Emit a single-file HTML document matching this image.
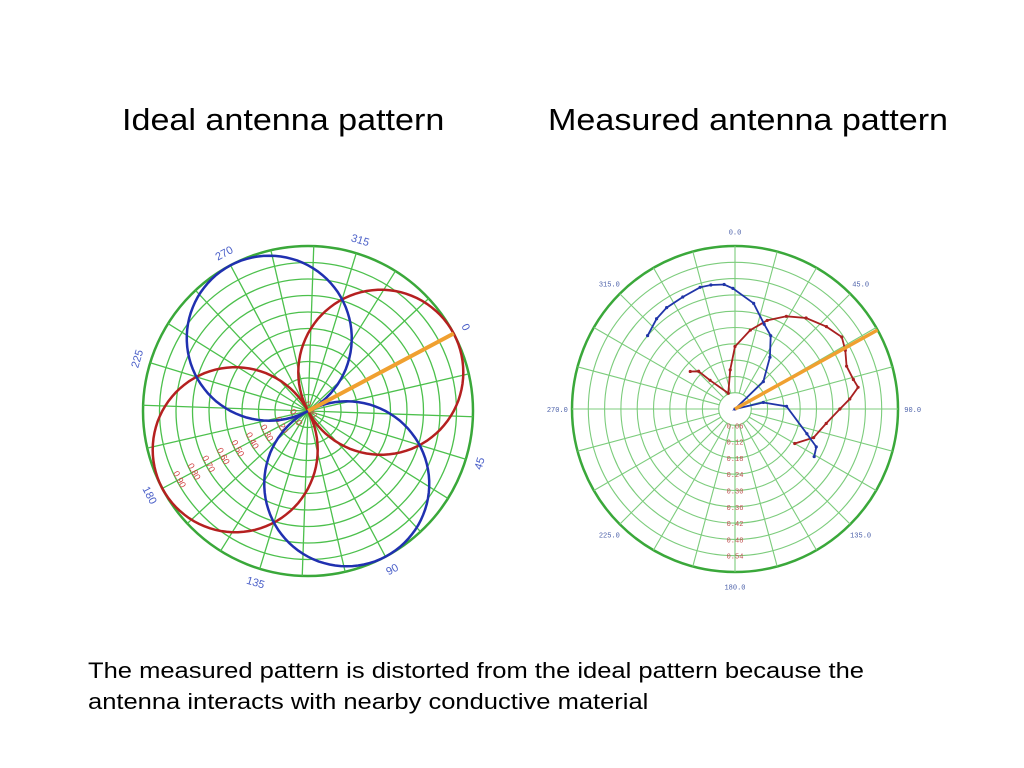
<!DOCTYPE html>
<html><head><meta charset="utf-8"><style>
body{margin:0;width:1024px;height:768px;background:#fff;overflow:hidden;font-family:"Liberation Sans",sans-serif;}
.t{position:absolute;font-size:31px;color:#000;white-space:nowrap;transform-origin:0 0;}
.b{position:absolute;left:88px;font-size:22px;color:#000;line-height:31px;white-space:nowrap;transform-origin:0 0;}
</style></head><body>
<div class="t" style="left:122px;top:102px;transform:scaleX(1.1)">Ideal antenna pattern</div>
<div class="t" style="left:548px;top:102px;transform:scaleX(1.1)">Measured antenna pattern</div>
<div class="b" style="top:655px;transform:scaleX(1.16)">The measured pattern is distorted from the ideal pattern because the<br>antenna interacts with nearby conductive material</div>
<svg id="svg" width="1024" height="768" style="position:absolute;left:0;top:0"></svg>
<script>
// Measured chart data (angle deg clockwise from north, normalized magnitude)
const blueAngles=[310,319,326,335,344,349,355,359,10,19,26,34,46,60,77,87,109,115,121];
const blueValues=[0.42,0.44,0.45,0.455,0.466,0.465,0.46,0.444,0.395,0.33,0.30,0.23,0.145,0,0.107,0.19,0.28,0.33,0.34];
const redAngles=[120,110,99,90,85,80,76,69,62,56,48,38,29,20,11,0,353,337,319,316,310];
const redValues=[0.254,0.308,0.34,0.386,0.424,0.46,0.449,0.44,0.46,0.474,0.453,0.425,0.39,0.347,0.296,0.23,0.145,0.063,0.14,0.193,0.215];
const radialTicks=["0.06","0.12","0.18","0.24","0.30","0.36","0.42","0.48","0.54"];
const angleTicks=["0.0","45.0","90.0","135.0","180.0","225.0","270.0","315.0"];
const idealTicks=["0","45","90","135","180","225","270","315"];
const idealRadial=["0.00","0.10","0.20","0.30","0.40","0.50","0.60","0.70","0.80","0.90"];
const measuredMax=0.6, orangeAngle=61;
const NS='http://www.w3.org/2000/svg';
const svg=document.getElementById('svg');
function el(tag,a,parent){const e=document.createElementNS(NS,tag);for(const k in a)e.setAttribute(k,a[k]);(parent||svg).appendChild(e);return e;}
// ---------- Ideal chart ----------
const L={cx:308,cy:411,R:165,off:-28};
function lpt(deg,r){const a=(L.off+deg)*Math.PI/180;return [L.cx+r*Math.cos(a),L.cy+r*Math.sin(a)];}
let g=el('g',{});


for(let i=1;i<=10;i++){el('circle',{cx:L.cx,cy:L.cy,r:L.R*i/10,fill:'none',stroke:i==10?'#3aa83a':'#4cc04c','stroke-width':i==10?2.5:1.3},g);}
for(let d=0;d<360;d+=15){const p=lpt(d,L.R);el('line',{x1:L.cx,y1:L.cy,x2:p[0],y2:p[1],stroke:'#4cc04c','stroke-width':1.3},g);}
idealTicks.forEach((t,i)=>{const d=i*45;const p=lpt(d,L.R+14);let rot=((L.off+d+90)%360+360)%360;if(rot>90&&rot<270)rot-=180;const tx=el('text',{x:p[0],y:p[1]+4,'font-size':11,fill:'#4a5fc8','text-anchor':'middle',transform:`rotate(${rot} ${p[0]} ${p[1]})`});tx.textContent=t;

});
idealRadial.forEach((t,i)=>{const a=152*Math.PI/180;const r=L.R*i/10;const x=L.cx+r*Math.cos(a),y=L.cy+r*Math.sin(a);const tx=el('text',{x:x,y:y,'font-size':9,fill:'#d04040','text-anchor':'middle',transform:`rotate(62 ${x} ${y})`});tx.textContent=t;

});
function idealPath(fn,color,name){let d='';for(let a=0;a<=360;a+=2){const p=lpt(a,L.R*fn(a*Math.PI/180));d+=(a?'L':'M')+p[0].toFixed(1)+','+p[1].toFixed(1);}
const p=el('path',{d:d,fill:'none',stroke:color,'stroke-width':2.5});

}
idealPath(a=>Math.abs(Math.cos(a)),'#b52020','ideal-red-pattern');
idealPath(a=>Math.abs(Math.sin(a)),'#2030b0','ideal-blue-pattern');
{const p=lpt(0,L.R);const o=el('line',{x1:L.cx,y1:L.cy,x2:p[0],y2:p[1],stroke:'#f0a030','stroke-width':4});

}
// ---------- Measured chart ----------
const M={cx:735,cy:409,R:163};
function mpt(deg,v){const a=(deg-90)*Math.PI/180;const r=M.R*v/measuredMax;return [M.cx+r*Math.cos(a),M.cy+r*Math.sin(a)];}
g=el('g',{});


for(let i=1;i<=10;i++){el('circle',{cx:M.cx,cy:M.cy,r:M.R*i/10,fill:'none',stroke:i==10?'#3aa83a':'#7ccc7c','stroke-width':i==10?2.5:1.1},g);}
for(let d=0;d<360;d+=15){const p=mpt(d,measuredMax);const s=mpt(d,measuredMax*0.1);el('line',{x1:s[0],y1:s[1],x2:p[0],y2:p[1],stroke:'#7ccc7c','stroke-width':1.1},g);}
angleTicks.forEach((t,i)=>{const d=i*45;const p=mpt(d,measuredMax*1.09);const tx=el('text',{x:p[0],y:p[1]+3,'font-size':7,'font-family':'Liberation Mono, monospace',fill:'#4a5fa8','text-anchor':'middle'});tx.textContent=t;

});
radialTicks.forEach(t=>{const p=mpt(180,parseFloat(t));const tx=el('text',{x:p[0],y:p[1]+3,'font-size':7,'font-family':'Liberation Mono, monospace',fill:'#c05050','text-anchor':'middle'});tx.textContent=t;

});
function series(angles,vals,color,name){const pts=angles.map((a,i)=>mpt(a,vals[i]));
const p=el('polyline',{points:pts.map(q=>q[0].toFixed(1)+','+q[1].toFixed(1)).join(' '),fill:'none',stroke:color,'stroke-width':1.8});


pts.forEach(q=>{const c=el('circle',{cx:q[0],cy:q[1],r:1.6,fill:color});

});}
series(redAngles,redValues,'#a82020','measured-red-series');
series(blueAngles,blueValues,'#2035a8','measured-blue-series');
{const p=mpt(orangeAngle,measuredMax);const o=el('line',{x1:M.cx,y1:M.cy,x2:p[0],y2:p[1],stroke:'#f0a030','stroke-width':3.5});

}
</script>
</body></html>
